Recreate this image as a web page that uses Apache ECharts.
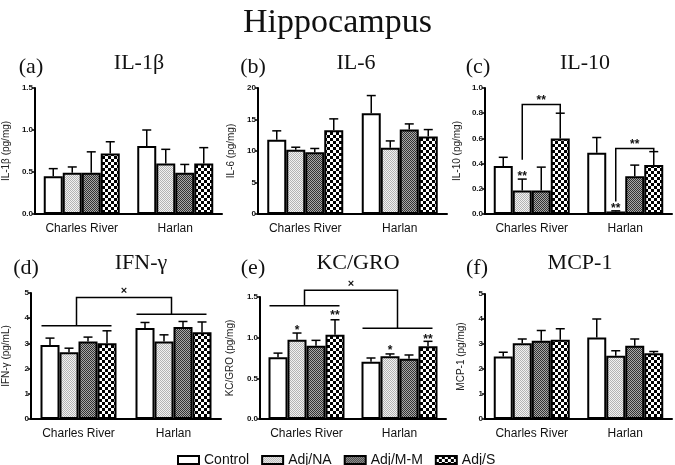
<!DOCTYPE html>
<html><head><meta charset="utf-8">
<script src="https://cdn.jsdelivr.net/npm/echarts@6/dist/echarts.min.js"></script>
<style>html,body{margin:0;padding:0;background:#fff}#c{width:675px;height:465px}</style>
</head><body><div id="c"></div>
<script>
// ---------- DATA ----------
const categories = ['Charles River', 'Harlan'];
const groups = ['Control', 'Adj/NA', 'Adj/M-M', 'Adj/S'];

// each row: one treatment group -> [Charles River, Harlan]
const il1bMeans = [[0.45, 0.81], [0.49, 0.60], [0.49, 0.49], [0.72, 0.60]];
const il1bSems  = [[0.09, 0.19], [0.07, 0.17], [0.25, 0.10], [0.14, 0.19]];

const il6Means = [[11.8, 16.0], [10.2, 10.5], [9.8, 13.4], [13.3, 12.3]];
const il6Sems  = [[1.4, 2.8], [0.4, 1.1], [0.6, 0.9], [1.8, 1.1]];

const il10Means = [[0.38, 0.487], [0.187, 0.02], [0.187, 0.30], [0.60, 0.388]];
const il10Sems  = [[0.07, 0.12], [0.09, 0.005], [0.185, 0.088], [0.20, 0.107]];

const ifngMeans = [[2.94, 3.61], [2.65, 3.08], [3.08, 3.65], [3.01, 3.44]];
const ifngSems  = [[0.27, 0.22], [0.16, 0.26], [0.17, 0.22], [0.49, 0.41]];

const kcMeans = [[0.76, 0.705], [0.975, 0.77], [0.90, 0.742], [1.037, 0.893]];
const kcSems  = [[0.05, 0.045], [0.082, 0.03], [0.067, 0.045], [0.183, 0.062]];

const mcpMeans = [[2.50, 3.26], [3.03, 2.53], [3.13, 2.93], [3.17, 2.63]];
const mcpSems  = [[0.17, 0.74], [0.17, 0.20], [0.41, 0.27], [0.44, 0.07]];

const yTicksTop = { il1b: [0, 1.5, 0.5], il6: [0, 20, 5], il10: [0, 1.0, 0.2] };
const yTicksBottom = { ifng: [0, 5, 1], kc: [0, 1.5, 0.5], mcp: [0, 5, 1] };

// significance annotations (values in data units)
const pairBrackets = [
  { panel: 2, cat: 0, fromBar: 1, toBar: 3, yLeft: 0.43, yRight: 0.80, yTop: 0.87, label: '**', labelY: 0.90 },
  { panel: 2, cat: 1, fromBar: 1, toBar: 3, yLeft: 0.10, yRight: 0.495, yTop: 0.52, label: '**', labelY: 0.55 }
];
const groupBrackets = [
  { panel: 3, lineY: [3.70, 4.16], yTop: 4.82, label: '×', labelY: 5.08 },
  { panel: 4, lineY: [1.393, 1.115], yTop: 1.582, label: '×', labelY: 1.66 }
];
const stars = [
  { panel: 2, cat: 0, bar: 1, y: 0.30, text: '**' },
  { panel: 2, cat: 1, bar: 1, y: 0.045, text: '**' },
  { panel: 4, cat: 0, bar: 1, y: 1.08, text: '*' },
  { panel: 4, cat: 0, bar: 3, y: 1.265, text: '**' },
  { panel: 4, cat: 1, bar: 1, y: 0.835, text: '*' },
  { panel: 4, cat: 1, bar: 3, y: 0.978, text: '**' }
];

// ---------- LAYOUT ----------
const SANS = 'Liberation Sans, Arial, sans-serif';
const SERIF = 'Liberation Serif, Times New Roman, serif';
const BW = 19;

const panels = [
  { letter: '(a)', title: 'IL-1β', yName: 'IL-1β (pg/mg)', ticks: yTicksTop.il1b, dec: 1, means: il1bMeans, sems: il1bSems,
    grid: { left: 35, top: 88, width: 187, height: 126 }, nameGap: 24, letterPos: [31, 67], titlePos: [139, 63] },
  { letter: '(b)', title: 'IL-6', yName: 'IL-6 (pg/mg)', ticks: yTicksTop.il6, dec: 0, means: il6Means, sems: il6Sems,
    grid: { left: 258, top: 88, width: 189, height: 126 }, nameGap: 22, letterPos: [253, 67], titlePos: [356, 63] },
  { letter: '(c)', title: 'IL-10', yName: 'IL-10 (pg/mg)', ticks: yTicksTop.il10, dec: 1, means: il10Means, sems: il10Sems,
    grid: { left: 485, top: 88, width: 187, height: 126 }, nameGap: 23, letterPos: [478, 67], titlePos: [585, 63] },
  { letter: '(d)', title: 'IFN-γ', yName: 'IFN-γ (pg/mL)', ticks: yTicksBottom.ifng, dec: 0, means: ifngMeans, sems: ifngSems,
    grid: { left: 31, top: 293, width: 190, height: 126 }, nameGap: 20, letterPos: [26, 268], titlePos: [141, 263] },
  { letter: '(e)', title: 'KC/GRO', yName: 'KC/GRO (pg/mg)', ticks: yTicksBottom.kc, dec: 1, means: kcMeans, sems: kcSems,
    grid: { left: 260, top: 297, width: 186, height: 122 }, nameGap: 25, letterPos: [253, 268], titlePos: [358, 263] },
  { letter: '(f)', title: 'MCP-1', yName: 'MCP-1 (pg/mg)', ticks: yTicksBottom.mcp, dec: 0, means: mcpMeans, sems: mcpSems,
    grid: { left: 485, top: 294, width: 187, height: 125 }, nameGap: 19, letterPos: [477, 268], titlePos: [580, 263] }
];

function pat(size, draw) {
  const c = document.createElement('canvas'); c.width = c.height = size;
  draw(c.getContext('2d')); return { image: c, repeat: 'repeat' };
}
const fills = [
  '#ffffff',
  pat(2, g => { g.fillStyle = '#f2f2f2'; g.fillRect(0, 0, 2, 2); g.fillStyle = '#b4b4b4'; g.fillRect(0, 0, 1, 1); g.fillRect(1, 1, 1, 1); }),
  pat(2, g => { g.fillStyle = '#a8a8a8'; g.fillRect(0, 0, 2, 2); g.fillStyle = '#333333'; g.fillRect(0, 0, 1, 1); g.fillRect(1, 1, 1, 1); }),
  pat(6, g => { g.fillStyle = '#ffffff'; g.fillRect(0, 0, 6, 6); g.fillStyle = '#000000'; g.fillRect(0, 0, 3, 3); g.fillRect(3, 3, 3, 3); })
];

const chart = echarts.init(document.getElementById('c'), null, { renderer: 'canvas' });

const grids = [], xAxes = [], yAxes = [], series = [];
panels.forEach((p, i) => {
  grids.push(Object.assign({ containLabel: false }, p.grid));
  xAxes.push({
    type: 'category', gridIndex: i, data: categories,
    axisLine: { lineStyle: { color: '#000', width: 2 } },
    axisTick: { show: false },
    axisLabel: { interval: 0, fontSize: 12, color: '#111', margin: 9, fontFamily: SANS }
  });
  yAxes.push({
    type: 'value', gridIndex: i, min: p.ticks[0], max: p.ticks[1], interval: p.ticks[2],
    splitLine: { show: false },
    axisLine: { show: true, lineStyle: { color: '#000', width: 2 } },
    axisTick: { show: true, length: 3, lineStyle: { color: '#000', width: 1.5 } },
    axisLabel: { fontSize: 8, fontWeight: 'bold', color: '#111', margin: 2, fontFamily: SANS,
      formatter: v => v.toFixed(p.dec) },
    name: p.yName, nameLocation: 'middle', nameGap: p.nameGap,
    nameTextStyle: { fontSize: 10, color: '#222', fontFamily: SANS }
  });
  groups.forEach((gname, k) => {
    series.push({
      type: 'bar', name: gname, xAxisIndex: i, yAxisIndex: i, data: p.means[k],
      barWidth: BW, barGap: '0%',
      itemStyle: { color: fills[k], borderColor: '#000', borderWidth: 2 },
      emphasis: { disabled: true }, z: 2
    });
  });
  const errData = [];
  groups.forEach((gname, k) => categories.forEach((c, ci) => {
    errData.push([ci, p.means[k][ci], p.means[k][ci] + p.sems[k][ci], k]);
  }));
  series.push({
    type: 'custom', xAxisIndex: i, yAxisIndex: i, data: errData, z: 3, silent: true,
    encode: { x: 0, y: [1, 2] },
    renderItem: (params, api) => {
      const ci = api.value(0), k = api.value(3);
      const a = api.coord([ci, api.value(1)]), b = api.coord([ci, api.value(2)]);
      const x = a[0] + (k - 1.5) * BW;
      const st = { stroke: '#000', lineWidth: 1.5 };
      return { type: 'group', children: [
        { type: 'line', shape: { x1: x, y1: a[1], x2: x, y2: b[1] }, style: st },
        { type: 'line', shape: { x1: x - 4.5, y1: b[1], x2: x + 4.5, y2: b[1] }, style: st }
      ] };
    }
  });
});

chart.setOption({
  animation: false,
  backgroundColor: '#fff',
  title: [{ text: 'Hippocampus', left: 'center', top: 1,
    textStyle: { fontFamily: SERIF, fontSize: 34, fontWeight: 'normal', color: '#111' } }],
  legend: {
    data: groups, left: 172, top: 448, icon: 'rect', itemWidth: 21, itemHeight: 8, itemGap: 12,
    textStyle: { fontSize: 14, color: '#111', fontFamily: SANS }, selectedMode: false
  },
  grid: grids, xAxis: xAxes, yAxis: yAxes, series: series
});

// ---------- annotations ----------
function px(pi, ci, v) { return chart.convertToPixel({ gridIndex: pi }, [ci, v]); }
function barX(pi, ci, k) { return px(pi, ci, 0)[0] + (k - 1.5) * BW; }
function yPx(pi, v) { return px(pi, 0, v)[1]; }
const LS = { stroke: '#000', lineWidth: 1.5 };
const gfx = [];
panels.forEach((p, i) => {
  gfx.push({ type: 'text', x: p.letterPos[0], y: p.letterPos[1],
    style: { text: p.letter, font: '22px ' + SERIF, fill: '#111', textAlign: 'center', textVerticalAlign: 'middle' } });
  gfx.push({ type: 'text', x: p.titlePos[0], y: p.titlePos[1],
    style: { text: p.title, font: '22px ' + SERIF, fill: '#111', textAlign: 'center', textVerticalAlign: 'middle' } });
});
pairBrackets.forEach(b => {
  const x1 = barX(b.panel, b.cat, b.fromBar), x2 = barX(b.panel, b.cat, b.toBar);
  const yt = yPx(b.panel, b.yTop);
  gfx.push({ type: 'polyline', shape: { points: [[x1, yPx(b.panel, b.yLeft)], [x1, yt], [x2, yt], [x2, yPx(b.panel, b.yRight)]] }, style: Object.assign({ fill: null }, LS) });
  gfx.push({ type: 'text', x: (x1 + x2) / 2, y: yPx(b.panel, b.labelY),
    style: { text: b.label, font: 'bold 12px ' + SANS, fill: '#111', textAlign: 'center', textVerticalAlign: 'middle' } });
});
groupBrackets.forEach(b => {
  const cx = [0, 1].map(ci => px(b.panel, ci, 0)[0]);
  const ly = b.lineY.map(v => yPx(b.panel, v));
  const mids = [];
  cx.forEach((c, ci) => {
    const xa = c - 37, xb = c + 33;
    mids.push((xa + xb) / 2);
    gfx.push({ type: 'line', shape: { x1: xa, y1: ly[ci], x2: xb, y2: ly[ci] }, style: LS });
  });
  const yt = yPx(b.panel, b.yTop);
  gfx.push({ type: 'polyline', shape: { points: [[mids[0], ly[0]], [mids[0], yt], [mids[1], yt], [mids[1], ly[1]]] }, style: Object.assign({ fill: null }, LS) });
  gfx.push({ type: 'text', x: (mids[0] + mids[1]) / 2, y: yPx(b.panel, b.labelY),
    style: { text: b.label, font: 'bold 11px ' + SANS, fill: '#111', textAlign: 'center', textVerticalAlign: 'middle' } });
});
stars.forEach(s => {
  gfx.push({ type: 'text', x: barX(s.panel, s.cat, s.bar), y: yPx(s.panel, s.y),
    style: { text: s.text, font: 'bold 12px ' + SANS, fill: '#111', textAlign: 'center', textVerticalAlign: 'middle' } });
});
chart.setOption({ graphic: gfx });
</script>
</body></html>
